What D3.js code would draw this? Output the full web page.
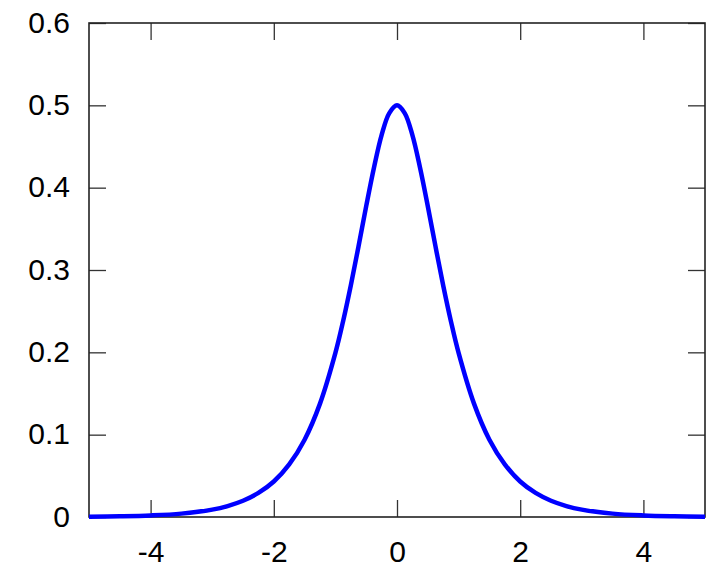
<!DOCTYPE html>
<html><head><meta charset="utf-8">
<script src="https://cdn.jsdelivr.net/npm/d3@7"></script>
<style>body{margin:0;background:#fff}svg{display:block}</style>
</head><body>
<svg id="c" width="723" height="570"></svg>
<script>
const xVals = [-5,-4.5,-4,-3.5,-3,-2.75,-2.5,-2.25,-2,-1.75,-1.5,-1.25,-1,-0.875,-0.75,-0.625,-0.5,-0.375,-0.25,-0.125,0,0.125,0.25,0.375,0.5,0.625,0.75,0.875,1,1.25,1.5,1.75,2,2.25,2.5,2.75,3,3.5,4,4.5,5];
const yVals = [0.0004,0.0009,0.0019,0.0041,0.009,0.0133,0.0197,0.0292,0.0431,0.0639,0.0939,0.1377,0.1993,0.2378,0.2812,0.3286,0.3775,0.4239,0.4638,0.4905,0.5,0.4905,0.4638,0.4239,0.3775,0.3286,0.2812,0.2378,0.1993,0.1377,0.0939,0.0639,0.0431,0.0292,0.0197,0.0133,0.009,0.0041,0.0019,0.0009,0.0004];
const xTicks = [-4,-2,0,2,4];
const yTicks = [0,0.1,0.2,0.3,0.4,0.5,0.6];

const svg = d3.select("#c");
const L=89, R=705, T=23, B=517;
const x = d3.scaleLinear().domain([-5,5]).range([L,R]);
const y = d3.scaleLinear().domain([0,0.6]).range([B,T]);
const font = "'Liberation Sans', Arial, sans-serif";

function styleAxis(g){
  g.select(".domain").remove();
  g.selectAll(".tick line").attr("stroke","#333").attr("stroke-width",1.3);
  g.selectAll(".tick text").attr("font-family",font).attr("font-size",30).attr("fill","#000");
}
svg.append("g").attr("transform",`translate(0,${B})`)
  .call(d3.axisBottom(x).tickValues(xTicks).tickSize(-17).tickPadding(24).tickFormat(d=>String(d)))
  .call(styleAxis);
svg.append("g").attr("transform",`translate(0,${T})`)
  .call(d3.axisTop(x).tickValues(xTicks).tickSize(-17).tickFormat(""))
  .call(styleAxis);
svg.append("g").attr("transform",`translate(${L},0)`)
  .call(d3.axisLeft(y).tickValues(yTicks).tickSize(-17).tickPadding(19).tickFormat(d=>d===0?"0":d3.format(".1f")(d)))
  .call(styleAxis)
  .call(g=>g.selectAll(".tick text").attr("dy","0.3em"));
svg.append("g").attr("transform",`translate(${R},0)`)
  .call(d3.axisRight(y).tickValues(yTicks).tickSize(-17).tickFormat(""))
  .call(styleAxis);

svg.append("rect").attr("x",L).attr("y",T).attr("width",R-L).attr("height",B-T)
  .attr("fill","none").attr("stroke","#222").attr("stroke-width",1.6);

const data = xVals.map((v,i)=>[v,yVals[i]]);
svg.append("path").datum(data)
  .attr("fill","none").attr("stroke","#0000ff").attr("stroke-width",4.5)
  .attr("stroke-linejoin","round")
  .attr("d", d3.line().x(d=>x(d[0])).y(d=>y(d[1])).curve(d3.curveCatmullRom));
</script>
</body></html>
